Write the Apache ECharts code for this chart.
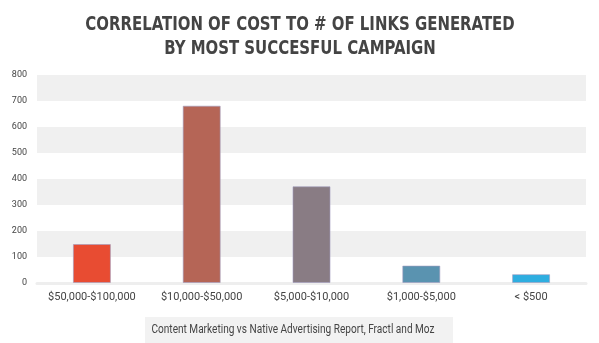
<!DOCTYPE html>
<html><head><meta charset="utf-8">
<script src="https://cdn.jsdelivr.net/npm/echarts@6/dist/echarts.min.js"></script>
<style>html,body{margin:0;padding:0;background:#fff}#c{width:599px;height:343px}</style>
</head><body><div id="c"></div>
<script>
var categories = ['$50,000-$100,000', '$10,000-$50,000', '$5,000-$10,000', '$1,000-$5,000', '< $500'];
var links = [150, 682, 372, 67, 34];
var barColors = ['#e84c32', '#b56556', '#897c84', '#5a93b0', '#2eaee0'];
var yTicks = [0, 100, 200, 300, 400, 500, 600, 700, 800];
var titleLines = ['CORRELATION OF COST TO # OF LINKS GENERATED', 'BY MOST SUCCESFUL CAMPAIGN'];
var sourceText = 'Content Marketing vs Native Advertising Report, Fractl and Moz';

var chart = echarts.init(document.getElementById('c'), null, {renderer: 'canvas'});
var titleFont = 'bold 20px "DejaVu Sans Condensed"';
chart.setOption({
  animation: false,
  grid: {left: 37, right: 13, top: 75, bottom: 60},
  xAxis: {
    type: 'category', data: categories,
    axisLine: {show: true, lineStyle: {color: '#eeeeee', width: 3}},
    axisTick: {show: false},
    axisLabel: {color: '#444', fontFamily: 'Roboto', fontSize: 11, margin: 9, interval: 0}
  },
  yAxis: {
    type: 'value', min: yTicks[0], max: yTicks[yTicks.length - 1], interval: 100,
    axisLine: {show: false}, axisTick: {show: false},
    splitLine: {show: false},
    splitArea: {show: true, areaStyle: {color: ['#ffffff', '#f0f0f0']}},
    axisLabel: {color: '#444', fontFamily: 'Roboto', fontSize: 9, margin: 10}
  },
  series: [{
    type: 'bar', barWidth: 38,
    data: links.map(function (v, i) {
      return {value: v, itemStyle: {color: barColors[i], borderColor: 'rgba(160,155,190,0.6)', borderWidth: 1}};
    })
  }],
  graphic: [
    {type: 'text', x: 300, y: 25, scaleX: 0.83, style: {text: titleLines[0], textAlign: 'center', textVerticalAlign: 'middle', fill: '#444444', font: titleFont}},
    {type: 'text', x: 300, y: 48.5, scaleX: 0.83, style: {text: titleLines[1], textAlign: 'center', textVerticalAlign: 'middle', fill: '#444444', font: titleFont}},
    {type: 'rect', shape: {x: 145, y: 317, width: 308, height: 30}, style: {fill: '#f2f2f2'}},
    {type: 'text', x: 293, y: 330, scaleX: 0.84, style: {text: sourceText, textAlign: 'center', textVerticalAlign: 'middle', fill: '#444', font: '12px Roboto'}}
  ]
});
</script></body></html>
